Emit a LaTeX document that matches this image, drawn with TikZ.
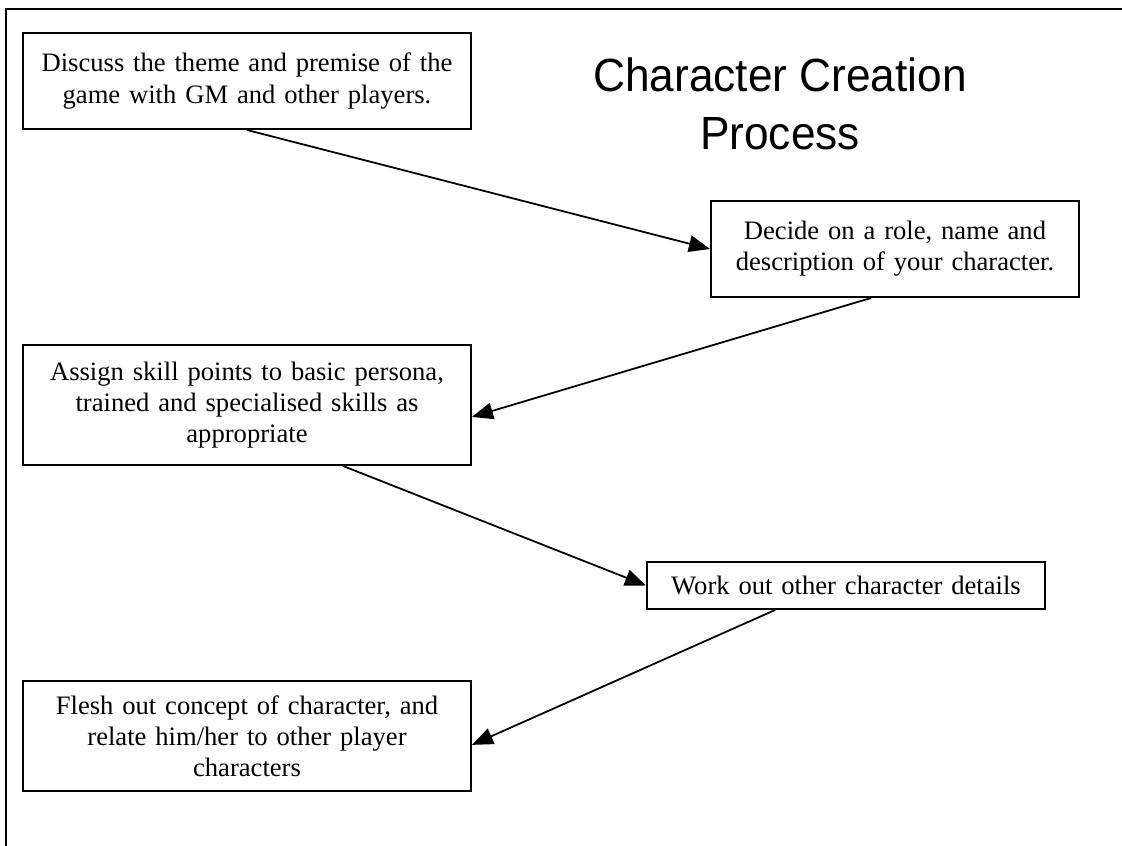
\documentclass[tikz,border=0pt]{standalone}
\usepackage{fontspec}
\setmainfont{Liberation Serif}
\newfontfamily\titlefont[FakeStretch=0.95]{Liberation Sans}
\usetikzlibrary{arrows.meta}
\begin{document}
\begin{tikzpicture}[x=0.451pt, y=-0.451pt,
    stepbox/.style={rectangle, draw=black, line width=0.9pt, inner xsep=4pt, inner ysep=0pt,
      align=center, font=\fontsize{12}{14}\selectfont},
    flow/.style={-{Triangle[length=9.5pt,width=7.5pt]}, line width=0.8pt}]

       \useasboundingbox (0, 0) rectangle (1122, 846);
       \draw[line width=1pt] (6, 846) -- (6, 9) -- (1122, 9);

       \node[align=center, font=\titlefont\fontsize{21}{26}\selectfont] (title) at (780, 104) {Character Creation\\Process};

       \node[stepbox, text width=194pt, minimum height=43.3pt] (discuss) at (247, 81)
         {Discuss the theme and premise of the\\game with GM and other players.};
       \node[stepbox, text width=158pt, minimum height=43.3pt] (decide) at (895, 249)
         {Decide on a role, name and\\description of your character.};
       \node[stepbox, text width=194pt, minimum height=54.1pt] (assign) at (247, 405)
         {Assign skill points to basic persona,\\trained and specialised skills as\\appropriate};
       \node[stepbox, text width=171.5pt, minimum height=21.2pt] (details) at (846, 585.5)
         {Work out other character details};
       \node[stepbox, text width=194pt, minimum height=49.6pt] (flesh) at (247, 736)
         {Flesh out concept of character, and\\relate him/her to other player\\characters};

       \draw[flow] (discuss.south) -- (decide.west);
       \draw[flow] ([xshift=-10.8pt]decide.south) -- ([yshift=-5.4pt]assign.east);
       \draw[flow] ([xshift=43.3pt]assign.south) -- (details.west);
       \draw[flow] ([xshift=-32pt]details.south) -- ([yshift=-4pt]flesh.east);
     \end{tikzpicture}
\end{document}
